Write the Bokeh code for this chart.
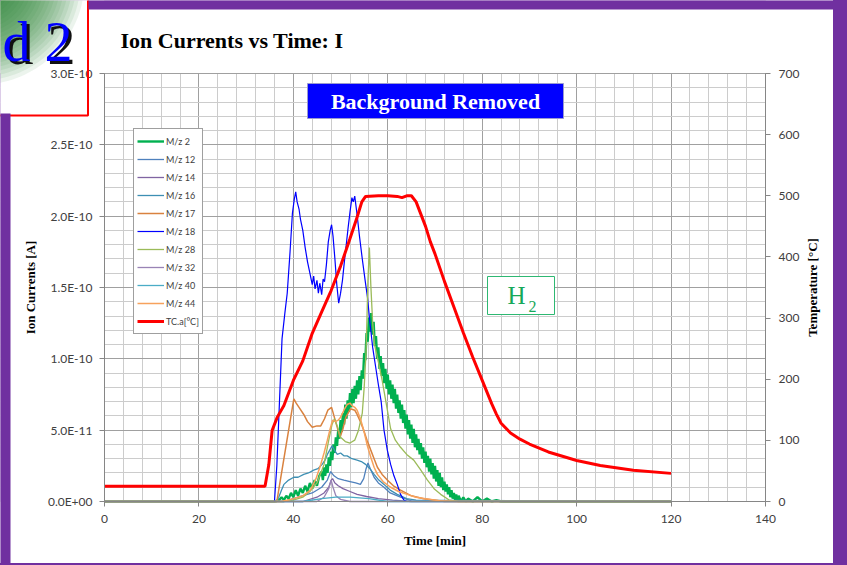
import math
import numpy as np
from bokeh.plotting import figure
from bokeh.models import (Range1d, LinearAxis, FixedTicker, Grid, Label, Legend, LegendItem,
                          BoxAnnotation, PolyAnnotation)
from bokeh.embed import file_html
from bokeh.resources import INLINE

# ---------------- data (ion currents in units of 1E-11 A, time in min) ----------------
t_h2 = [0, 36, 37, 37.5, 38, 38.5, 39, 39.5, 40, 40.5, 41, 41.5, 42, 42.5, 43, 43.5, 44, 44.5,
        45, 45.5, 46.0, 46.25, 46.5, 46.75, 47.0, 47.25, 47.5, 47.75, 48.0, 48.25, 48.5, 48.75,
        49.0, 49.25, 49.5, 49.75, 50.0, 50.25, 50.5, 50.75, 51.0, 51.25, 51.5, 51.75, 52.0,
        52.25, 52.5, 52.75, 53.0, 53.25, 53.5, 53.75, 54.0, 54.25, 54.5, 54.75, 55.0, 55.25,
        55.5, 55.75, 56.0, 56.25, 56.5, 56.75, 57.0, 57.25, 57.5, 57.75, 58.0, 58.25, 58.5,
        58.75, 59.0, 59.25, 59.5, 59.75, 60.0, 60.25, 60.5, 60.75, 61.0, 61.25, 61.5, 61.75,
        62.0, 62.25, 62.5, 62.75, 63.0, 63.25, 63.5, 63.75, 64.0, 64.25, 64.5, 64.75, 65.0,
        65.25, 65.5, 65.75, 66.0, 66.25, 66.5, 66.75, 67.0, 67.25, 67.5, 67.75, 68.0, 68.25,
        68.5, 68.75, 69.0, 69.25, 69.5, 69.75, 70.0, 70.25, 70.5, 70.75, 71.0, 71.25, 71.5,
        71.75, 72.0, 72.25, 72.5, 72.75, 73.0, 73.25, 73.5, 73.75, 74.0, 74.25, 74.5, 74.75,
        75.0, 75.5, 76.0, 76.5, 77.0, 78, 79, 80, 81, 82, 83, 84, 120]
v_h2 = [0, 0, 0.1, 0.3, 0.1, 0.4, 0.2, 0.6, 0.3, 0.8, 0.4, 0.9, 0.6, 1.1, 0.7, 1.3, 0.9, 1.5,
        1.1, 1.8, 2.1, 1.5, 2.4, 1.8, 2.6, 2.0, 3.1, 2.5, 3.5, 2.9, 4.0, 3.4, 4.5, 3.9, 5.0,
        4.4, 5.7, 4.9, 6.2, 5.4, 6.8, 5.8, 7.1, 6.3, 7.6, 6.6, 7.9, 6.9, 8.1, 7.2, 8.5, 7.5,
        8.8, 7.8, 9.2, 8.6, 10.4, 9.9, 11.8, 11.2, 12.9, 11.9, 13.2, 11.7, 12.6, 10.9, 11.6,
        10.0, 10.8, 9.3, 10.2, 8.8, 9.7, 8.3, 9.3, 7.9, 8.9, 7.5, 8.5, 7.2, 8.2, 6.9, 7.9, 6.5,
        7.5, 6.2, 7.1, 5.8, 6.8, 5.5, 6.4, 5.1, 6.1, 4.7, 5.7, 4.4, 5.4, 4.1, 5.1, 3.8, 4.7,
        3.6, 4.4, 3.3, 4.1, 3.0, 3.8, 2.7, 3.5, 2.4, 3.2, 2.1, 3.0, 1.9, 2.7, 1.6, 2.5, 1.4,
        2.2, 1.1, 2.0, 1.0, 1.7, 0.8, 1.4, 0.7, 1.2, 0.5, 1.0, 0.3, 0.8, 0.2, 0.6, 0.1, 0.5,
        0.0, 0.4, 0.0, 0.3, 0.0, 0.2, 0.0, 0.3, 0.0, 0.2, 0.0, 0.1, 0.0, 0]

t_12 = [0, 38, 41, 44, 46, 47.2, 47.9, 48.6, 49.5, 50.7, 52.0, 53.2, 54.2, 54.9, 55.4, 55.8,
        56.3, 57.1, 58.0, 59.2, 60.5, 62.7, 65, 120]
v_12 = [0, 0, 0.3, 0.6, 1.0, 1.5, 2.1, 1.8, 1.6, 1.5, 1.4, 1.3, 1.2, 1.6, 2.3, 2.7, 2.3, 1.7,
        1.3, 1.0, 0.6, 0.3, 0.05, 0]

t_14 = [0, 42, 45, 46.5, 47.5, 48.0, 48.3, 48.8, 49.5, 50.5, 52.0, 53.5, 55.5, 58, 61, 65, 120]
v_14 = [0, 0, 0.3, 0.6, 1.0, 1.5, 1.6, 1.3, 1.1, 0.9, 0.7, 0.5, 0.35, 0.2, 0.1, 0, 0]

t_16 = [0, 36.5, 36.9, 37.5, 38.0, 39.0, 40.1, 41.0, 42.2, 43.2, 44.3, 45.2, 46.1, 46.7, 47.2,
        47.7, 48.2, 48.7, 49.3, 50.0, 50.7, 51.4, 52.4, 53.5, 54.4, 55.3, 56.2, 57.1, 58.1,
        59.2, 60.5, 62.0, 64.0, 66.0, 120]
v_16 = [0, 0, 0.3, 0.8, 1.2, 1.5, 1.7, 1.7, 1.9, 2.0, 2.2, 2.3, 2.6, 2.9, 3.3, 3.6, 3.9, 3.6,
        3.3, 3.4, 3.2, 3.2, 3.0, 2.9, 2.8, 2.6, 2.3, 1.9, 1.5, 1.2, 0.8, 0.5, 0.2, 0.1, 0]

t_17 = [0, 36.5, 37.5, 38.5, 39.5, 40.1, 40.6, 41.2, 42.2, 43.0, 44.0, 45.0, 45.8, 46.6, 47.3,
        48.1, 48.6, 49.2, 49.9, 50.5, 51.1, 52.1, 53.0, 53.5, 54.2, 54.9, 55.6, 56.4, 57.1,
        57.8, 58.8, 59.9, 61.2, 62.7, 65.0, 67.6, 72, 120]
v_17 = [0, 0, 2.0, 4.0, 6.0, 7.2, 6.9, 6.6, 6.1, 5.6, 5.2, 5.3, 5.3, 5.8, 6.4, 6.6, 6.0, 5.3,
        4.5, 5.1, 5.9, 6.5, 6.4, 6.1, 5.6, 5.0, 4.3, 3.6, 3.0, 2.4, 1.9, 1.5, 1.1, 0.8, 0.4,
        0.2, 0, 0]

t_18 = [0, 36.0, 36.5, 37.0, 37.6, 38.2, 38.7, 39.3, 39.8, 40.2, 40.5, 40.8, 41.2, 41.5, 42.0,
        42.5, 43.0, 43.5, 44.0, 44.3, 44.6, 45.0, 45.3, 45.6, 46.0, 46.3, 46.6, 47.0, 47.4,
        47.8, 48.1, 48.4, 48.8, 49.2, 49.6, 50.0, 50.4, 50.8, 51.2, 51.6, 52.0, 52.4, 52.7,
        53.0, 53.5, 54.0, 54.6, 55.2, 55.7, 56.2, 56.8, 57.4, 58.0, 58.6, 59.2, 59.9, 60.6,
        61.3, 62.0, 62.7, 63.4, 64.0, 120]
v_18 = [0, 0, 2.5, 6.5, 11.4, 13.2, 14.6, 17.5, 20.2, 21.2, 21.7, 21.0, 20.5, 19.8, 19.0,
        17.8, 16.8, 16.0, 15.2, 15.8, 14.9, 15.5, 14.6, 15.3, 14.5, 15.6, 15.4, 16.6, 18.2,
        19.0, 19.4, 18.6, 17.0, 15.2, 13.9, 14.6, 15.5, 16.8, 18.0, 19.2, 20.3, 21.3, 21.0,
        21.4, 20.1, 18.6, 17.0, 15.5, 14.3, 12.6, 10.8, 9.5, 8.2, 7.0, 5.0, 3.6, 2.6, 1.8,
        1.2, 0.5, 0.1, 0, 0]

t_28 = [0, 38, 40, 42, 43.5, 45, 46.5, 47.5, 48.2, 48.7, 49.3, 50.0, 51.0, 52.0, 53.0, 53.8,
        54.6, 55.0, 55.4, 55.8, 56.1, 56.4, 56.8, 57.2, 58.0, 58.8, 59.7, 60.6, 61.6, 62.7,
        64.0, 65.5, 67.0, 68.4, 69.8, 71.2, 73.0, 75, 120]
v_28 = [0, 0, 0.1, 0.3, 0.7, 1.3, 2.6, 4.3, 5.4, 5.8, 5.3, 4.5, 4.2, 4.1, 4.3, 5.0, 6.2, 8.0,
        10.5, 15.5, 17.8, 15.2, 12.5, 11.0, 9.8, 8.5, 6.8, 5.1, 4.3, 3.8, 3.3, 2.9, 2.2, 1.5,
        0.9, 0.5, 0.1, 0, 0]

t_32 = [0, 45, 46.5, 47.5, 48.0, 48.4, 49.0, 50.0, 52, 120]
v_32 = [0, 0, 0.3, 0.9, 1.5, 1.0, 0.4, 0.15, 0, 0]

t_40 = [0, 42, 46, 49, 52, 56, 60, 120]
v_40 = [0, 0, 0.2, 0.3, 0.3, 0.2, 0, 0]

t_44 = [0, 37.5, 40, 42, 43.6, 44.8, 45.8, 46.5, 47.2, 47.8, 48.3, 48.9, 49.5, 50.0, 50.7,
        51.4, 52.0, 52.5, 53.0, 53.5, 54.2, 54.9, 55.6, 56.4, 57.1, 57.8, 59.0, 60.6, 62.3,
        64.1, 66.0, 68.0, 71.0, 75, 120]
v_44 = [0, 0, 0.2, 0.4, 0.8, 1.6, 2.6, 3.4, 4.3, 5.1, 5.7, 5.6, 5.7, 5.9, 6.4, 6.8, 6.9, 6.7,
        6.6, 6.4, 5.8, 5.0, 4.0, 3.1, 2.4, 1.9, 1.4, 1.0, 0.7, 0.5, 0.3, 0.2, 0.05, 0, 0]

# temperature (right axis, degC)
t_tc = [0, 10, 20, 30, 34, 34.8, 35.5, 36.6, 38, 40, 42, 44, 46, 48, 50, 52, 53.5, 54.5, 55.3,
        58, 60, 62, 63, 64, 65, 66, 67, 68, 69, 70, 72, 74, 76, 78, 80, 82, 83, 84, 86, 88,
        90, 94, 100, 105, 112, 120]
T_tc = [25, 25, 25, 25, 25, 60, 116, 138, 157, 198, 230, 275, 310, 345, 385, 430, 465, 490,
        499, 500, 500, 499, 497, 500, 500, 490, 470, 450, 425, 405, 360, 318, 276, 236, 198,
        160, 143, 128, 112, 102, 94, 81, 67, 59, 51, 46]

x_major = [0, 20, 40, 60, 80, 100, 120, 140]
y_major = [0, 5, 10, 15, 20, 25, 30]
y_labels = ["0.0E+00", "5.0E-11", "1.0E-10", "1.5E-10", "2.0E-10", "2.5E-10", "3.0E-10"]
temp_major = [0, 100, 200, 300, 400, 500, 600, 700]

series = [
    ("M/z 2", t_h2, v_h2, "#00b050", 2.4),
    ("M/z 12", t_12, v_12, "#4f81bd", 1.3),
    ("M/z 14", t_14, v_14, "#8064a2", 1.3),
    ("M/z 16", t_16, v_16, "#3d8fb3", 1.3),
    ("M/z 17", t_17, v_17, "#d9823f", 1.5),
    ("M/z 18", t_18, v_18, "#0000ff", 1.2),
    ("M/z 28", t_28, v_28, "#9bbb59", 1.3),
    ("M/z 32", t_32, v_32, "#9983b5", 1.3),
    ("M/z 40", t_40, v_40, "#4bacc6", 1.3),
    ("M/z 44", t_44, v_44, "#f7a25c", 1.5),
]

# ---------------- layout: the frame covers the whole canvas ----------------
W, H = 833, 563                 # canvas size (page pixels, origin top-left)
PX0, PX1 = 104, 765             # page x of t=0 and t=140
PY0, PY1 = 501, 73              # page y of 0 and 3.0E-10
kx = (PX1 - PX0) / 140.0
ky = (PY0 - PY1) / 30.0
kt = (PY0 - PY1) / 700.0

p = figure(width=W, height=H, output_backend="svg", toolbar_location=None,
           x_axis_location=None, y_axis_location=None,
           x_range=Range1d(-PX0 / kx, 140 + (W - PX1) / kx),
           y_range=Range1d(-(H - PY0) / ky, 30 + PY1 / ky),
           min_border=0, min_border_left=0, min_border_right=0,
           min_border_top=0, min_border_bottom=0)
p.extra_y_ranges = {"temp": Range1d(-(H - PY0) / kt, 700 + PY1 / kt)}
p.border_fill_color = "white"
p.background_fill_color = "white"
p.outline_line_color = None

FONT = "Lato"
SERIF = "Liberation Serif"
AX = "#868686"
TXT = "#404040"

def sx(px):          # page x -> screen x (frame = canvas)
    return px
def sy(py):          # page y -> screen y (measured upward from canvas bottom)
    return H - py

xt = FixedTicker(ticks=x_major, minor_ticks=list(range(0, 141, 4)))
yt = FixedTicker(ticks=y_major, minor_ticks=list(range(0, 31)))

xg = Grid(dimension=0, ticker=xt, bounds=(0, 140))
yg = Grid(dimension=1, ticker=yt, bounds=(0, 30))
for g in (xg, yg):
    g.grid_line_color = "#a0a0a0"
    g.grid_line_width = 1
    g.minor_grid_line_color = "#cccccc"
    g.minor_grid_line_width = 1
    p.add_layout(g)

def box(l, r, t, b, **kw):
    kw.setdefault("line_alpha", 1)
    return BoxAnnotation(left=sx(l), right=sx(r), top=sy(t), bottom=sy(b),
                         left_units="screen", right_units="screen",
                         top_units="screen", bottom_units="screen", **kw)

# white masks so the grid shows only inside the data area
for l, r, t, b in ((-10, W + 10, -10, PY1 - 0.5), (-10, W + 10, PY0 + 0.5, H + 10),
                   (-10, PX0 - 0.5, -10, H + 10), (PX1 + 0.5, W + 10, -10, H + 10)):
    p.add_layout(box(l, r, t, b, fill_color="white", fill_alpha=1, line_color=None,
                     level="underlay"))

def style_axis(ax):
    ax.axis_line_color = AX
    ax.major_tick_line_color = AX
    ax.major_tick_out = 5
    ax.major_tick_in = 0
    ax.minor_tick_out = 0
    ax.minor_tick_in = 0
    ax.major_label_text_font = FONT
    ax.major_label_text_font_size = "12px"
    ax.major_label_text_color = TXT
    ax.axis_label_text_font = SERIF
    ax.axis_label_text_font_style = "bold"
    ax.axis_label_text_font_size = "13px"
    ax.axis_label_text_color = "black"

xax = LinearAxis(ticker=xt, fixed_location=0, bounds=(0, 140), axis_label="Time [min]")
style_axis(xax)
xax.major_label_standoff = 8
xax.axis_label_standoff = 7
p.add_layout(xax, "below")

yax = LinearAxis(ticker=yt, fixed_location=0, bounds=(0, 30), axis_label="Ion Currents [A]",
                 major_label_overrides={v: s for v, s in zip(y_major, y_labels)})
style_axis(yax)
yax.major_label_standoff = 7
yax.axis_label_standoff = 7
p.add_layout(yax, "left")

rax = LinearAxis(y_range_name="temp", ticker=FixedTicker(ticks=temp_major), fixed_location=140,
                 bounds=(0, 700))
style_axis(rax)
rax.major_label_standoff = 8
p.add_layout(rax, "right")
# right axis title, reading bottom-to-top
p.add_layout(Label(x=sx(812), y=sy(287), x_units="screen", y_units="screen",
                   text="Temperature [°C]", angle=math.pi / 2, text_font=SERIF,
                   text_font_style="bold", text_font_size="13px", text_color="black",
                   text_align="center", text_baseline="middle"))

renderers = []
for name, t, v, col, lw in series:
    r = p.line(t, v, line_color=col, line_width=lw)
    renderers.append((name, r))
r_tc = p.line(t_tc, T_tc, y_range_name="temp", line_color="#ff0000", line_width=3)
renderers.append(("TC.a[°C]", r_tc))

legend = Legend(items=[LegendItem(label=n, renderers=[r]) for n, r in renderers],
                location=(sx(133), sy(334)))
legend.glyph_width = 27
legend.glyph_height = 18
legend.label_height = 18
legend.label_standoff = 2
legend.spacing = 0
legend.padding = 3
legend.margin = 0
legend.label_text_font = FONT
legend.label_text_font_size = "9px"
legend.label_text_color = TXT
legend.border_line_color = "#404040"
legend.border_line_width = 1
legend.background_fill_color = "white"
legend.background_fill_alpha = 1
p.add_layout(legend)

# ---------------- decorations ----------------
# green page-corner gradient (stacked translucent quarter discs)
ang = np.linspace(0, np.pi / 2, 40)
for rad in range(104, 0, -4):
    xs = [sx(-20)] + [sx(-20 + rad * np.cos(a)) for a in ang]
    ys = [sy(-20)] + [sy(-20 + rad * np.sin(a)) for a in ang]
    p.add_layout(PolyAnnotation(xs=xs, ys=ys, xs_units="screen", ys_units="screen",
                                fill_color="#2f8a3a", fill_alpha=0.09, line_color=None))

p.add_layout(Label(x=sx(75), y=sy(44), x_units="screen", y_units="screen", text="d 2",
                   text_font=SERIF, text_font_size="56px", text_color="#111111",
                   text_align="right", text_baseline="middle"))
p.add_layout(Label(x=sx(72), y=sy(41), x_units="screen", y_units="screen", text="d 2",
                   text_font=SERIF, text_font_size="56px", text_color="#0000ff",
                   text_align="right", text_baseline="middle"))

p.add_layout(box(-20, 87.5, -20, 115, fill_alpha=0, line_color="#ff0000", line_width=2))

# purple slide border
p.add_layout(box(-10, 10, 113, H + 10, fill_color="#7030a0", fill_alpha=1, line_color=None,
                 level="overlay"))
p.add_layout(box(88, W + 10, -10, 9, fill_color="#7030a0", fill_alpha=1, line_color=None,
                 level="overlay"))

# title
p.add_layout(Label(x=sx(120), y=sy(40), x_units="screen", y_units="screen",
                   text="Ion Currents vs Time: I", text_font=SERIF, text_font_style="bold",
                   text_font_size="22px", text_color="black", text_baseline="middle"))

# "Background Removed" box
p.add_layout(box(307, 563, 83, 118, fill_color="#0000ff", fill_alpha=1,
                 line_color="#9a9ad0", line_width=1))
p.add_layout(Label(x=sx(435), y=sy(101), x_units="screen", y_units="screen",
                   text="Background Removed", text_font=SERIF, text_font_style="bold",
                   text_font_size="22px", text_color="white", text_align="center",
                   text_baseline="middle"))

# H2 box
p.add_layout(box(487, 554, 276, 314, fill_color="white", fill_alpha=1,
                 line_color="#2eb872", line_width=1))
p.add_layout(Label(x=sx(516), y=sy(294.5), x_units="screen", y_units="screen", text="H",
                   text_font=SERIF, text_font_size="25px", text_color="#17a85a",
                   text_align="center", text_baseline="middle"))
p.add_layout(Label(x=sx(532), y=sy(306), x_units="screen", y_units="screen", text="2",
                   text_font=SERIF, text_font_size="16px", text_color="#17a85a",
                   text_align="center", text_baseline="middle"))

html = file_html(p, INLINE, title="Ion Currents vs Time")
html = html.replace("</head>", "<style>body{background:#7030a0;}</style></head>", 1)
open("out.html", "w").write(html)
